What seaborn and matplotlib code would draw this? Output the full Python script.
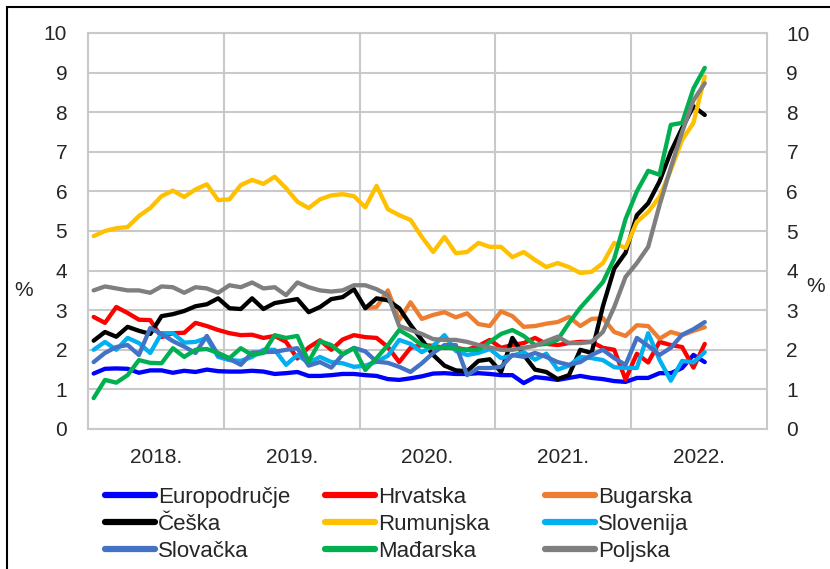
import numpy as np
import pandas as pd
import matplotlib
matplotlib.use("Agg")
import matplotlib.pyplot as plt
import seaborn as sns
from matplotlib.lines import Line2D
from matplotlib.patches import Rectangle

sns.set_style("white")
plt.rcParams["font.family"] = ["Liberation Sans", "DejaVu Sans"]

# ---------------- data ----------------
year_labels = ["2018.", "2019.", "2020.", "2021.", "2022."]
countries = ["Europodručje", "Hrvatska", "Bugarska", "Češka", "Rumunjska",
             "Slovenija", "Slovačka", "Mađarska", "Poljska"]
colors = ["#0000FF", "#FF0000", "#ED7D31", "#000000", "#FFC000",
          "#00B0F0", "#4472C4", "#00B050", "#7F7F7F"]

months = pd.period_range("2018-01", periods=55, freq="M").astype(str)

europodrucje = [1.40, 1.52, 1.53, 1.52, 1.42, 1.48, 1.48, 1.42, 1.47, 1.44, 1.50, 1.46,
                1.45, 1.45, 1.47, 1.45, 1.39, 1.41, 1.44, 1.34, 1.34, 1.36, 1.39, 1.39,
                1.36, 1.34, 1.26, 1.24, 1.28, 1.33, 1.40, 1.41, 1.39, 1.39, 1.41, 1.39,
                1.36, 1.36, 1.16, 1.31, 1.28, 1.24, 1.29, 1.34, 1.29, 1.26, 1.21, 1.19,
                1.29, 1.29, 1.41, 1.41, 1.54, 1.87, 1.69]
hrvatska = [2.83, 2.68, 3.08, 2.93, 2.76, 2.75, 2.32, 2.42, 2.43, 2.68, 2.60, 2.50,
            2.42, 2.37, 2.38, 2.30, 2.35, 2.20, 1.78, 2.06, 2.24, 2.00, 2.26, 2.37,
            2.32, 2.30, 2.07, 1.69, 2.05, 2.12, 2.10, 2.05, 2.05, 2.00, 2.10, 2.25,
            2.05, 2.12, 2.17, 2.30, 2.15, 2.12, 2.17, 2.20, 2.20, 2.05, 2.00, 1.25,
            1.90, 1.68, 2.20, 2.12, 2.07, 1.55, 2.15]
bugarska = [np.nan] * 24 + [
            3.05, 3.08, 3.50, 2.75, 3.20, 2.78, 2.88, 2.95, 2.82, 2.92, 2.65, 2.60,
            2.97, 2.85, 2.58, 2.60, 2.66, 2.70, 2.83, 2.60, 2.78, 2.80, 2.45, 2.35,
            2.62, 2.60, 2.28, 2.45, 2.37, 2.48, 2.57]
ceska = [2.23, 2.45, 2.33, 2.58, 2.48, 2.40, 2.85, 2.90, 2.98, 3.10, 3.15, 3.30,
         3.05, 3.03, 3.30, 3.03, 3.18, 3.23, 3.28, 2.95, 3.08, 3.28, 3.33, 3.53,
         3.05, 3.30, 3.25, 3.05, 2.63, 2.25, 1.87, 1.60, 1.48, 1.46, 1.72, 1.76,
         1.44, 2.30, 1.87, 1.50, 1.44, 1.26, 1.36, 2.00, 1.92, 3.10, 4.05, 4.45,
         5.40, 5.70, 6.25, 7.00, 7.60, 8.15, 7.93]
rumunjska = [4.87, 5.00, 5.07, 5.10, 5.38, 5.58, 5.88, 6.02, 5.86, 6.05, 6.18, 5.78,
             5.80, 6.16, 6.29, 6.19, 6.37, 6.08, 5.74, 5.58, 5.80, 5.90, 5.93, 5.88,
             5.60, 6.14, 5.55, 5.40, 5.28, 4.85, 4.47, 4.85, 4.44, 4.47, 4.70, 4.60,
             4.60, 4.34, 4.47, 4.27, 4.09, 4.19, 4.09, 3.94, 3.97, 4.19, 4.70, 4.57,
             5.23, 5.48, 5.86, 6.54, 7.30, 7.73, 8.90]
slovenija = [2.00, 2.20, 2.00, 2.30, 2.17, 1.92, 2.42, 2.42, 2.18, 2.20, 2.30, 1.82,
             1.74, 1.72, 1.82, 2.00, 2.00, 1.62, 1.87, 1.67, 1.82, 1.69, 1.66, 1.57,
             1.60, 1.70, 1.85, 2.25, 2.15, 1.94, 2.10, 2.37, 1.97, 1.87, 1.92, 2.02,
             1.79, 1.85, 1.94, 1.75, 1.90, 1.50, 1.60, 1.82, 1.79, 1.74, 1.56, 1.54,
             1.54, 2.42, 1.75, 1.22, 1.72, 1.68, 1.94]
slovacka = [1.69, 1.92, 2.07, 2.12, 1.87, 2.55, 2.40, 2.22, 2.08, 1.92, 2.35, 1.87,
            1.77, 1.62, 1.93, 1.94, 1.95, 2.00, 2.04, 1.60, 1.69, 1.55, 1.88, 2.05,
            1.96, 1.70, 1.67, 1.57, 1.44, 1.66, 1.92, 2.12, 2.12, 1.36, 1.54, 1.54,
            1.57, 1.87, 1.82, 1.92, 1.82, 1.69, 1.62, 1.69, 1.87, 2.00, 1.79, 1.62,
            2.30, 2.10, 1.87, 2.05, 2.38, 2.52, 2.70]
madjarska = [0.78, 1.24, 1.17, 1.36, 1.74, 1.67, 1.66, 2.04, 1.82, 2.00, 2.02, 1.92,
             1.79, 2.04, 1.87, 1.92, 2.37, 2.30, 2.35, 1.70, 2.22, 2.12, 1.89, 2.04,
             1.49, 1.79, 2.12, 2.50, 2.33, 2.12, 2.05, 2.06, 2.03, 2.00, 2.00, 2.20,
             2.40, 2.50, 2.35, 2.12, 2.15, 2.25, 2.68, 3.06, 3.38, 3.71, 4.30, 5.30,
             6.00, 6.52, 6.42, 7.68, 7.73, 8.60, 9.12]
poljska = [3.50, 3.60, 3.55, 3.50, 3.50, 3.44, 3.60, 3.58, 3.44, 3.58, 3.55, 3.44,
           3.63, 3.58, 3.70, 3.55, 3.58, 3.38, 3.70, 3.58, 3.50, 3.47, 3.50, 3.63,
           3.63, 3.53, 3.38, 2.60, 2.50, 2.40, 2.27, 2.25, 2.25, 2.20, 2.12, 2.06,
           2.00, 2.00, 2.05, 2.10, 2.22, 2.33, 2.17, 2.17, 2.20, 2.45, 3.08, 3.84,
           4.19, 4.60, 5.65, 6.60, 7.50, 8.30, 8.73]

series = [europodrucje, hrvatska, bugarska, ceska, rumunjska,
          slovenija, slovacka, madjarska, poljska]

wide = pd.DataFrame({c: s for c, s in zip(countries, series)})
wide["mjesec"] = np.arange(len(months))
long = wide.melt(id_vars="mjesec", var_name="zemlja", value_name="stopa").dropna()

# ---------------- figure ----------------
W, H = 830, 569
fig = plt.figure(figsize=(W / 100, H / 100), dpi=100)
ax = fig.add_axes([88 / W, (H - 429) / H, 679 / W, 396 / H])

sns.lineplot(data=long, x="mjesec", y="stopa", hue="zemlja", hue_order=countries,
             palette=colors, linewidth=3.1, estimator=None, errorbar=None,
             legend=False, ax=ax)

grid_c = "#C9C9C9"
ax.set_xlim(-0.5, 59.5)
ax.set_ylim(0, 10)
ax.set_yticks(range(0, 11))
ax.set_xticks([11.5, 23.5, 35.5, 47.5])
ax.set_xticklabels([])
ax.set_xticks([5.5 + 12 * k for k in range(5)], minor=True)
ax.set_xticklabels(year_labels, minor=True)
ax.grid(True, which="major", color=grid_c, linewidth=1.5)
ax.set_axisbelow(True)
for sp in ax.spines.values():
    sp.set_color(grid_c)
    sp.set_linewidth(1.5)
ax.tick_params(axis="both", which="both", length=0, labelsize=15)
ax.tick_params(axis="y", pad=15)
ax.tick_params(axis="x", which="minor", pad=14)
ax.set_xlabel("")
ax.set_ylabel("")

ax2 = ax.twinx()
ax2.set_ylim(0, 10)
ax2.set_yticks(range(0, 11))
ax2.tick_params(axis="y", length=0, labelsize=15, pad=14)
for sp in ax2.spines.values():
    sp.set_visible(False)

fig.text(24 / W, 1 - 290 / H, "%", fontsize=15, ha="center", va="center")
fig.text(816 / W, 1 - 287 / H, "%", fontsize=15, ha="center", va="center")

# legend: three columns, row-major order as in the original
for col, x0 in enumerate([105, 325, 545]):
    idx = [col, col + 3, col + 6]
    handles = [Line2D([], [], color=colors[i], linewidth=4.5, solid_capstyle="round")
               for i in idx]
    labels = [countries[i] for i in idx]
    fig.legend(handles, labels, loc="upper left",
               bbox_to_anchor=(x0 / W, 1 - 487 / H), frameon=False,
               fontsize=16, handlelength=2.25, handletextpad=0.12,
               labelspacing=0.26, borderpad=0, borderaxespad=0)

fig.add_artist(Rectangle((7 / W, -0.05), 1.0, 1 - 7 / H + 0.05,
                         transform=fig.transFigure, fill=False,
                         edgecolor="black", linewidth=1.5))

fig.savefig("out.png", dpi=100)
